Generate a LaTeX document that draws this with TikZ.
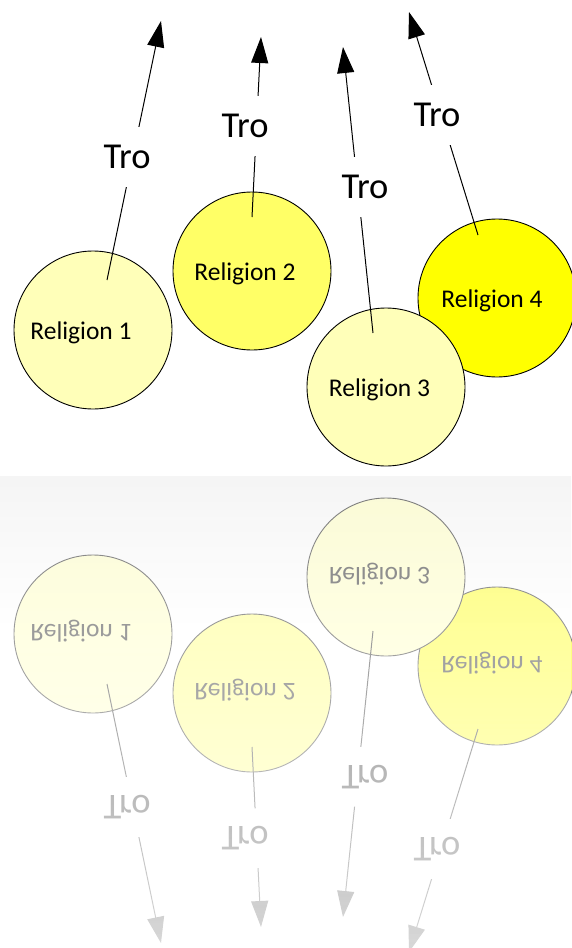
\documentclass[tikz,border=0pt]{standalone}
\usepackage{fontspec}
\setmainfont{Carlito}
\usepackage{xcolor}
\usepackage{tikz}
\usetikzlibrary{arrows.meta,fadings}

\definecolor{paleyellow}{RGB}{255,255,185}
\definecolor{midyellow}{RGB}{255,255,102}
\definecolor{fullyellow}{RGB}{255,255,0}

\tikzfading[name=fade to white, top color=transparent!100, bottom color=transparent!30]

% circles and arrows, drawn once upright and once mirrored
\newcommand{\religionscene}{%
  % Religions
  \node [religion=-24pt, fill=paleyellow] (r1) at (93,330) {Religion 1};
  \node [religion=-14pt, fill=midyellow] (r2) at (252,271) {Religion 2};
  \node [religion=-10pt, fill=fullyellow] (r4) at (497,298) {Religion 4};
  \node [religion=-13pt, fill=paleyellow] (r3) at (386,387) {Religion 3};
  % Arrow ends
  \coordinate (s1) at (107,280);
  \coordinate (s2) at (252,217);
  \coordinate (s3) at (373,333);
  \coordinate (s4) at (478,235);
  \coordinate (e1) at (161,21);
  \coordinate (e2) at (261,37);
  \coordinate (e3) at (343,47);
  \coordinate (e4) at (409,12);
  % Arrows
  \draw [arrow] (s1) -- node[tro, pos=0.475, xshift=-5.6pt] (t1) {Tro} (e1);
  \draw [arrow] (s2) -- node[tro, pos=0.506, xshift=-11.5pt] (t2) {Tro} (e2);
  \draw [arrow] (s3) -- node[tro, pos=0.51, xshift=7.3pt] (t3) {Tro} (e3);
  \draw [arrow] (s4) -- node[tro, pos=0.538, xshift=-3.9pt] (t4) {Tro} (e4);
}

\begin{document}
\begin{tikzpicture}[x=1pt, y=-1pt,
    religion/.style={circle, draw, line width=0.9pt, minimum size=158pt, inner sep=0pt, text height=24pt, text depth=5pt, font=\fontsize{25.5}{30}\selectfont, execute at begin node={\hspace*{#1}}},
    religion/.default=0pt,
    tro/.style={fill=white, inner xsep=3pt, inner ysep=18pt, font=\fontsize{36.5}{40}\selectfont},
    arrow/.style={line width=1pt, -{Triangle[length=26pt, width=17pt]}}
]
\useasboundingbox (0,0) rectangle (571,948);

% Floor
\shade [top color=black!4, bottom color=white] (0,476) rectangle (571,630);

% Upright picture
\religionscene

% Mirror image
\begin{scope}[shift={(0,964)}, yscale=-1, transform shape, name prefix=m-, transparency group, opacity=0.5]
  \religionscene
\end{scope}

% Fade the mirror image
\fill [white, path fading=fade to white] (0,482) rectangle (571,948);

\end{tikzpicture}
\end{document}
